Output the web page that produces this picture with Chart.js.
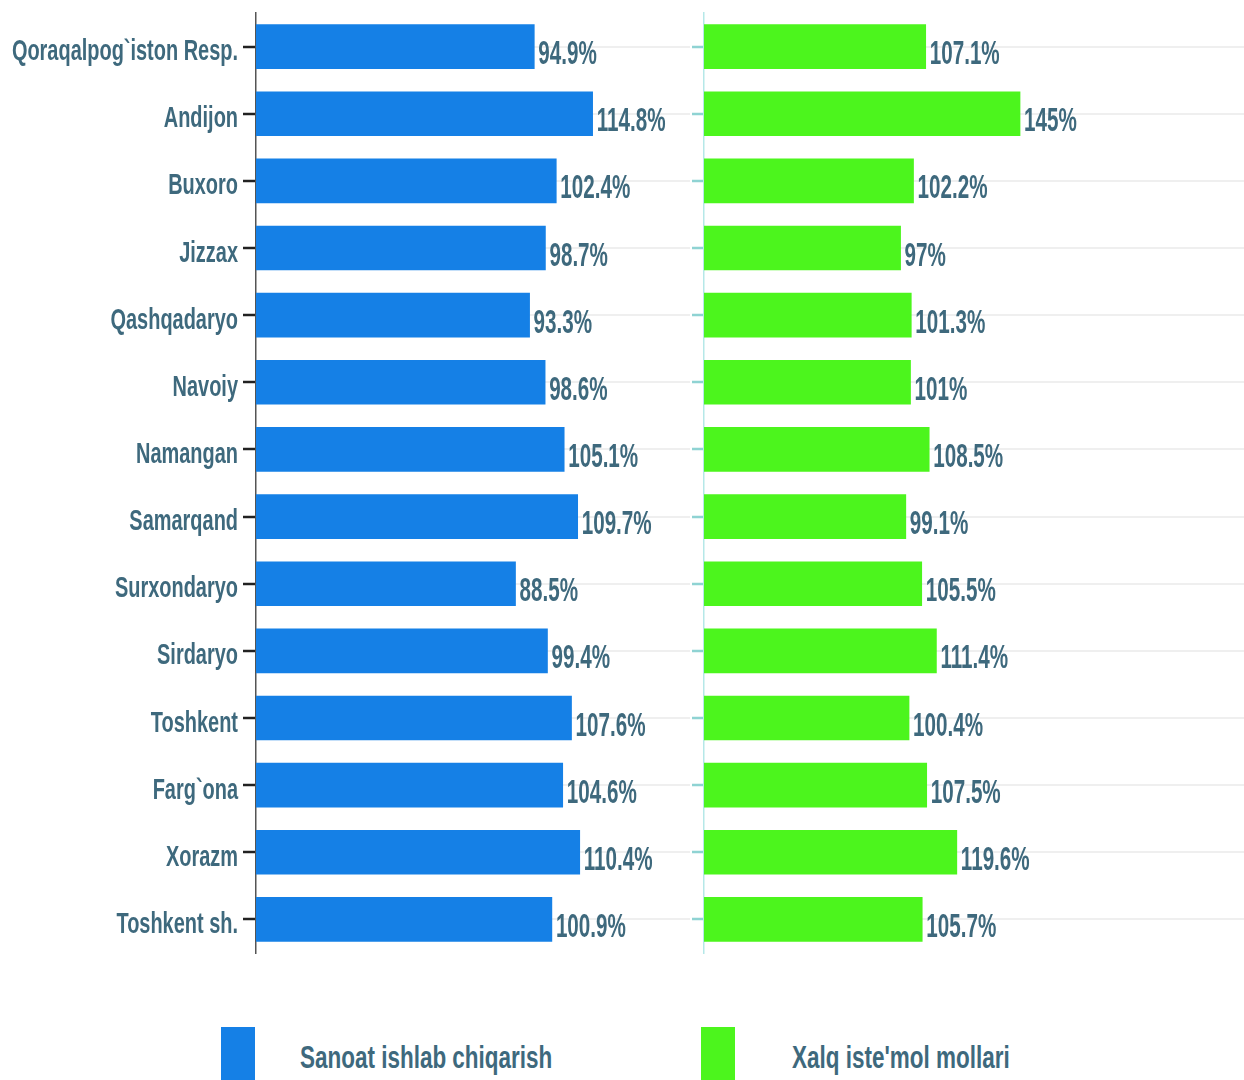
<!DOCTYPE html>
<html>
<head>
<meta charset="utf-8">
<script src="https://cdn.jsdelivr.net/npm/chart.js@4.4.1/dist/chart.umd.min.js"></script>
<style>
  html, body { margin:0; padding:0; background:#ffffff; }
  body { width:1244px; height:1080px; overflow:hidden; position:relative; font-family:"Liberation Sans", Arial, sans-serif; }
  .panel { position:absolute; top:0; height:960px; }
  .box { position:absolute; top:1027px; width:34px; height:60px; }
  .ltxt { position:absolute; top:1042px; font-weight:bold; font-size:31px; line-height:31px; white-space:nowrap;
          color:#3e697d; transform:scaleX(0.725); transform-origin:left top; }
</style>
</head>
<body>
<div class="panel" style="left:0;width:690px;"><canvas id="c1"></canvas></div>
<div class="panel" style="left:692px;width:552px;"><canvas id="c2"></canvas></div>
<div class="box" id="b1" style="left:221px;"></div>
<div class="ltxt" id="t1" style="left:300px;"></div>
<div class="box" id="b2" style="left:701px;"></div>
<div class="ltxt" id="t2" style="left:792px;"></div>
<script>
// ---- data ----
const regions = ["Qoraqalpog`iston Resp.", "Andijon", "Buxoro", "Jizzax", "Qashqadaryo", "Navoiy", "Namangan",
                 "Samarqand", "Surxondaryo", "Sirdaryo", "Toshkent", "Farg`ona", "Xorazm", "Toshkent sh."];
const sanoat = [94.9, 114.8, 102.4, 98.7, 93.3, 98.6, 105.1, 109.7, 88.5, 99.4, 107.6, 104.6, 110.4, 100.9];
const xalq   = [107.1, 145, 102.2, 97, 101.3, 101, 108.5, 99.1, 105.5, 111.4, 100.4, 107.5, 119.6, 105.7];
const seriesNames = ["Sanoat ishlab chiqarish", "Xalq iste'mol mollari"];

const BLUE = "#1580e6";
const GREEN = "#4cf51d";
const TXT = "#3e697d";
const FONT = '"Liberation Sans", Arial, sans-serif';

document.getElementById('b1').style.background = BLUE;
document.getElementById('b2').style.background = GREEN;
document.getElementById('t1').textContent = seriesNames[0];
document.getElementById('t2').textContent = seriesNames[1];

function valueLabels(drawTicks) {
  return {
    id: 'valueLabels',
    afterDatasetsDraw(chart) {
      const ctx = chart.ctx;
      const meta = chart.getDatasetMeta(0);
      const data = chart.data.datasets[0].data;
      ctx.save();
      ctx.fillStyle = TXT;
      ctx.font = 'bold 32.5px ' + FONT;
      ctx.textAlign = 'left';
      ctx.textBaseline = 'alphabetic';
      meta.data.forEach((bar, i) => {
        ctx.save();
        ctx.translate(bar.x + 4, bar.y + 17.5);
        ctx.scale(0.635, 1);
        ctx.fillText(String(data[i]) + '%', 0, 0);
        ctx.restore();
      });
      if (drawTicks) {
        const ys = chart.scales.y;
        ctx.font = 'bold 30px ' + FONT;
        ctx.textAlign = 'right';
        chart.data.labels.forEach((lab, i) => {
          const y = ys.getPixelForTick(i);
          ctx.save();
          ctx.translate(238, y + 13.5);
          ctx.scale(0.665, 1);
          ctx.fillText(lab, 0, 0);
          ctx.restore();
        });
      }
      ctx.restore();
    }
  };
}

function makeChart(id, values, color, name, xmin, xmax, axisW, tickColor, borderColor, drawTicks) {
  return new Chart(document.getElementById(id), {
    type: 'bar',
    data: {
      labels: regions,
      datasets: [{ label: name, data: values, backgroundColor: color, borderWidth: 0, barThickness: 44 }]
    },
    options: {
      indexAxis: 'y',
      animation: false,
      responsive: true,
      maintainAspectRatio: false,
      layout: { padding: { top: 13, bottom: 7, left: 0, right: 0 } },
      plugins: { legend: { display: false }, tooltip: { enabled: false } },
      scales: {
        x: { display: false, min: xmin, max: xmax },
        y: {
          grid: { offset: false, color: '#efefef', lineWidth: 2, drawTicks: true, tickLength: 13, tickColor: tickColor, tickWidth: 2.5 },
          border: { display: true, color: borderColor, width: 1.5 },
          ticks: { display: false },
          afterFit(s) { s.width = axisW; }
        }
      }
    },
    plugins: [valueLabels(drawTicks)]
  });
}

makeChart('c1', sanoat, BLUE, seriesNames[0], 0, 148, 256, '#222222', '#555555', true);
makeChart('c2', xalq, GREEN, seriesNames[1], 18, 235, 12, '#8fd3d3', '#b5e8e8', false);
</script>
</body>
</html>
